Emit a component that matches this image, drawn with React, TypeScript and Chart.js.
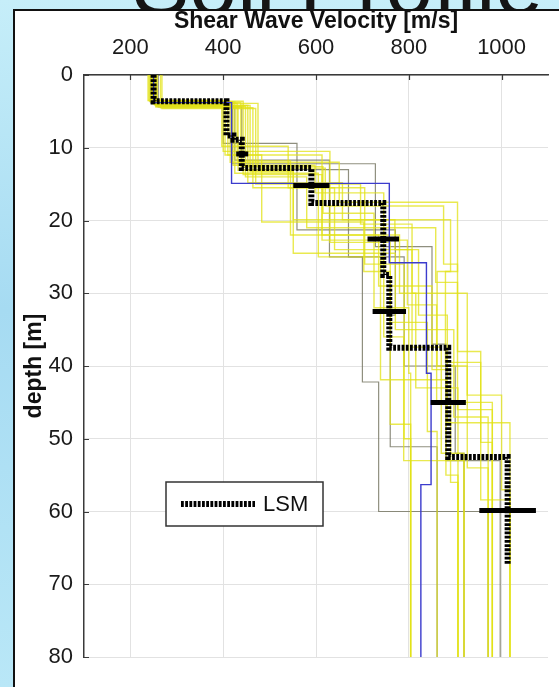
import React, { useEffect, useRef } from 'react';
import { Chart, registerables } from 'chart.js';

Chart.register(...registerables);

const pageTitle = 'Soil Profile';
const xTitle = 'Shear Wave Velocity [m/s]';
const yTitle = 'depth [m]';
const legendLabel = 'LSM';

const xTicks = [200, 400, 600, 800, 1000];
const yTicks = [0, 10, 20, 30, 40, 50, 60, 70, 80];

// Each profile: bottoms of layers [m] and layer velocities [m/s]
const yellowDepths = [
  [3.5, 9.8, 15.5, 26.0, 50.0, 80],
  [3.8, 11.0, 20.2, 27.0, 48.0, 80],
  [4.0, 12.4, 16.2, 25.4, 41.9, 55.0, 80],
  [4.4, 13.1, 19.9, 24.0, 37.4, 52.0, 80],
  [3.6, 13.7, 22.7, 31.6, 45.0, 80],
  [4.2, 14.8, 19.9, 27.0, 40.0, 54.0, 80],
  [4.5, 15.5, 24.0, 33.0, 47.8, 80],
  [3.9, 12.8, 18.0, 26.0, 38.0, 58.4, 80],
  [4.1, 11.0, 22.0, 30.0, 43.0, 80],
  [3.7, 13.5, 25.0, 36.0, 53.0, 80],
  [4.3, 14.0, 21.0, 28.5, 46.0, 80],
  [4.0, 12.0, 17.5, 27.0, 39.5, 50.5, 80],
  [3.5, 10.5, 23.0, 34.0, 49.0, 80],
  [4.6, 15.0, 20.5, 30.0, 44.0, 57.0, 80],
  [3.8, 12.6, 19.0, 32.0, 41.0, 80],
  [4.2, 13.3, 24.5, 35.0, 47.0, 80],
  [3.9, 11.8, 22.0, 29.0, 40.5, 56.0, 80],
];
const yellowVelocities = [
  [238, 397, 540, 705, 790, 804],
  [245, 404, 483, 703, 760, 804],
  [250, 421, 598, 746, 739, 880, 906],
  [255, 432, 551, 770, 807, 870, 919],
  [242, 443, 613, 797, 860, 980],
  [258, 453, 657, 890, 861, 926, 971],
  [265, 464, 640, 821, 883, 1018],
  [248, 475, 620, 875, 905, 955, 1018],
  [252, 410, 613, 780, 815, 906],
  [244, 425, 605, 746, 789, 919],
  [256, 448, 580, 858, 905, 980],
  [250, 415, 650, 905, 879, 955, 980],
  [240, 400, 630, 760, 840, 861],
  [268, 470, 696, 807, 926, 1000, 1018],
  [246, 438, 615, 725, 800, 804],
  [254, 458, 551, 771, 897, 971],
  [248, 430, 545, 735, 850, 890, 906],
];

const grayDepths = [
  [4.0, 9.4, 21.3, 33.0, 51.1, 80],
  [4.2, 11.7, 25.0, 42.2, 60.0, 80],
  [3.7, 12.2, 23.6, 37.0, 53.0, 80],
  [4.4, 13.0, 25.0, 40.0, 52.0, 80],
];
const grayVelocities = [
  [245, 400, 559, 771, 760, 861],
  [255, 425, 629, 700, 735, 971],
  [243, 420, 728, 850, 880, 997],
  [260, 440, 670, 790, 900, 919],
];

const blueDepths = [3.8, 14.9, 25.8, 41.0, 56.3, 80];
const blueVelocities = [250, 418, 758, 838, 848, 826];

const lsmDepths = [3.6, 8.3, 8.9, 12.8, 17.6, 27.5, 37.5, 52.5, 67.2];
const lsmVelocities = [250, 407, 422, 440, 590, 745, 758, 885, 1013];

const errorDepths = [10.85, 15.2, 22.55, 32.5, 45.0, 59.85];
const errorCenters = [441, 590, 745, 758, 885, 1013];
const errorHalfWidths = [13, 39, 34, 36, 38, 61];

const FONT = '"Liberation Sans", Arial, Helvetica, sans-serif';

function stepPoints(depths: number[], vels: number[]) {
  const pts: { x: number; y: number }[] = [];
  let top = 0;
  for (let i = 0; i < vels.length; i++) {
    pts.push({ x: vels[i], y: top });
    pts.push({ x: vels[i], y: depths[i] });
    top = depths[i];
  }
  return pts;
}

const LSM_DASH = [2.8, 1.4];

const backgroundPlugin = {
  id: 'pageBackground',
  beforeDraw(chart: any) {
    const ctx = chart.ctx;
    const W = chart.width;
    const H = chart.height;
    ctx.save();
    const g = ctx.createLinearGradient(0, 0, 0, H);
    g.addColorStop(0, '#c6eef9');
    g.addColorStop(0.45, '#a6dbf2');
    g.addColorStop(1, '#b9e7f7');
    ctx.fillStyle = g;
    ctx.fillRect(0, 0, W, H);
    ctx.fillStyle = '#151515';
    ctx.font = `86px ${FONT}`;
    ctx.textAlign = 'left';
    ctx.textBaseline = 'alphabetic';
    ctx.fillText(pageTitle, 132, 14);
    ctx.fillStyle = '#ffffff';
    ctx.fillRect(14, 10, W - 14, H - 10);
    ctx.strokeStyle = '#111';
    ctx.lineWidth = 2;
    ctx.beginPath();
    ctx.moveTo(14, H);
    ctx.lineTo(14, 10);
    ctx.lineTo(W, 10);
    ctx.stroke();
    ctx.restore();
  },
};

const overlayPlugin = {
  id: 'overlay',
  afterDraw(chart: any) {
    const ctx = chart.ctx;
    const ca = chart.chartArea;
    const xs = chart.scales.x;
    const ys = chart.scales.y;
    ctx.save();
    ctx.strokeStyle = '#3a3a3a';
    ctx.lineWidth = 1.2;
    ctx.beginPath();
    xTicks.forEach((v) => {
      const px = Math.round(xs.getPixelForValue(v)) + 0.5;
      ctx.moveTo(px, ca.top);
      ctx.lineTo(px, ca.top + 5);
    });
    yTicks.forEach((v) => {
      const py = Math.round(ys.getPixelForValue(v)) + 0.5;
      ctx.moveTo(ca.left, py);
      ctx.lineTo(ca.left + 5, py);
    });
    ctx.stroke();

    // legend box
    const bx = 166, by = 482, bw = 157, bh = 44;
    ctx.fillStyle = '#ffffff';
    ctx.fillRect(bx, by, bw, bh);
    ctx.strokeStyle = '#333';
    ctx.lineWidth = 1.5;
    ctx.strokeRect(bx, by, bw, bh);
    ctx.strokeStyle = '#000';
    ctx.lineWidth = 6;
    ctx.setLineDash(LSM_DASH);
    ctx.beginPath();
    ctx.moveTo(181, by + bh / 2);
    ctx.lineTo(255, by + bh / 2);
    ctx.stroke();
    ctx.setLineDash([]);
    ctx.fillStyle = '#111';
    ctx.font = `22px ${FONT}`;
    ctx.textAlign = 'left';
    ctx.textBaseline = 'middle';
    ctx.fillText(legendLabel, 263, by + bh / 2 + 1);
    ctx.restore();
  },
};

export default function App() {
  const ref = useRef<HTMLCanvasElement | null>(null);

  useEffect(() => {
    if (!ref.current) return;
    const datasets: any[] = [];
    errorDepths.forEach((d, i) => {
      datasets.push({
        data: [
          { x: errorCenters[i] - errorHalfWidths[i], y: d },
          { x: errorCenters[i] + errorHalfWidths[i], y: d },
        ],
        borderColor: '#000',
        borderWidth: 5,
        pointRadius: 0,
      });
    });
    datasets.push({
      label: legendLabel,
      data: stepPoints(lsmDepths, lsmVelocities),
      borderColor: '#000',
      borderWidth: 6,
      borderDash: LSM_DASH,
      pointRadius: 0,
    });
    datasets.push({
      data: stepPoints(blueDepths, blueVelocities),
      borderColor: 'rgb(60,60,205)',
      borderWidth: 1.4,
      pointRadius: 0,
    });
    yellowDepths.forEach((d, i) => {
      datasets.push({
        data: stepPoints(d, yellowVelocities[i]),
        borderColor: 'rgba(225,225,20,0.75)',
        borderWidth: 1.4,
        pointRadius: 0,
      });
    });
    grayDepths.forEach((d, i) => {
      datasets.push({
        data: stepPoints(d, grayVelocities[i]),
        borderColor: 'rgba(115,115,95,0.8)',
        borderWidth: 1.2,
        pointRadius: 0,
      });
    });

    const chart = new Chart(ref.current, {
      type: 'line',
      data: { datasets },
      plugins: [backgroundPlugin, overlayPlugin],
      options: {
        responsive: false,
        animation: false,
        devicePixelRatio: 1,
        events: [],
        layout: { padding: { left: 14, top: 8, right: 11, bottom: 30 } },
        elements: { line: { tension: 0, fill: false } },
        plugins: { legend: { display: false }, tooltip: { enabled: false } },
        scales: {
          x: {
            type: 'linear',
            position: 'top',
            min: 100,
            max: 1100,
            afterBuildTicks: (s: any) => {
              s.ticks = xTicks.map((v) => ({ value: v }));
            },
            afterFit: (s: any) => {
              s.height = 67;
            },
            grid: { color: '#e2e2e2', lineWidth: 1, drawTicks: false },
            border: { display: true, color: '#3a3a3a', width: 1.5 },
            ticks: {
              font: { family: FONT, size: 22 },
              color: '#1a1a1a',
              padding: 14,
              maxRotation: 0,
              callback: (v: any) => String(v),
            },
            title: {
              display: true,
              text: xTitle,
              font: { family: FONT, size: 23, weight: 'bold' },
              color: '#111',
              padding: { top: 0, bottom: 0 },
            },
          },
          y: {
            type: 'linear',
            reverse: true,
            min: 0,
            max: 80,
            afterBuildTicks: (s: any) => {
              s.ticks = yTicks.map((v) => ({ value: v }));
            },
            afterFit: (s: any) => {
              s.width = 70;
            },
            grid: { color: '#e2e2e2', lineWidth: 1, drawTicks: false },
            border: { display: true, color: '#3a3a3a', width: 1.5 },
            ticks: {
              font: { family: FONT, size: 22 },
              color: '#1a1a1a',
              padding: 11,
              callback: (v: any) => String(v),
            },
            title: {
              display: true,
              text: yTitle,
              font: { family: FONT, size: 23, weight: 'bold' },
              color: '#111',
              padding: { top: 7, bottom: 0 },
            },
          },
        },
      },
    } as any);
    return () => chart.destroy();
  }, []);

  return (
    <div style={{ position: 'fixed', left: 0, top: 0, width: 559, height: 687 }}>
      <canvas ref={ref} width={559} height={687} style={{ display: 'block', width: 559, height: 687 }} />
    </div>
  );
}
